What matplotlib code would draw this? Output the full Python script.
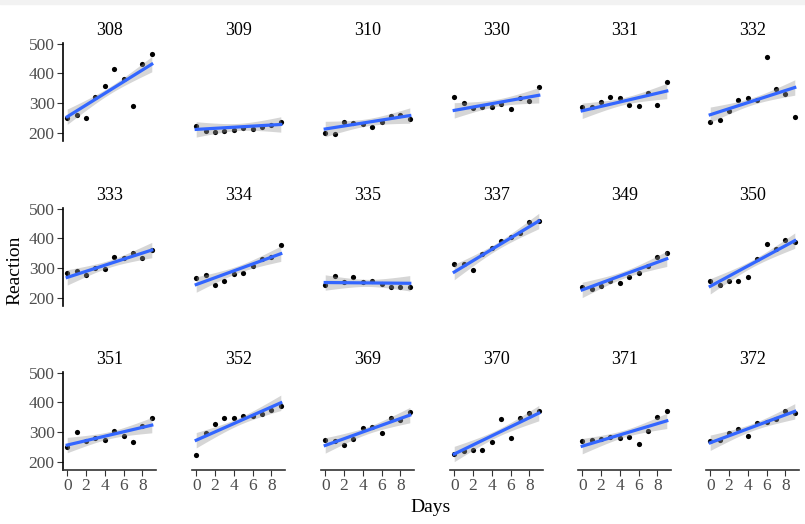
import numpy as np
import matplotlib.pyplot as plt
from matplotlib.patches import Rectangle

plt.rcParams['font.family'] = ['Liberation Serif', 'DejaVu Serif']

days = np.arange(10)
subjects = ['308', '309', '310', '330', '331', '332',
            '333', '334', '335', '337', '349', '350',
            '351', '352', '369', '370', '371', '372']

r308 = [249.56, 258.70, 250.80, 321.44, 356.85, 414.69, 382.20, 290.15, 430.59, 466.35]
r309 = [222.73, 205.27, 202.98, 204.71, 207.72, 215.96, 213.63, 217.73, 224.30, 237.31]
r310 = [199.05, 194.33, 234.32, 232.84, 229.31, 220.46, 235.42, 255.75, 261.01, 247.52]
r330 = [321.54, 300.40, 283.86, 285.13, 285.80, 297.59, 280.24, 318.26, 305.35, 354.05]
r331 = [287.61, 285.00, 301.82, 320.12, 316.28, 293.32, 290.08, 334.82, 293.75, 371.58]
r332 = [234.86, 242.81, 272.96, 309.77, 317.46, 310.00, 454.16, 346.83, 330.30, 253.86]
r333 = [283.84, 289.56, 276.77, 299.81, 297.17, 338.17, 332.03, 348.84, 333.36, 362.04]
r334 = [265.47, 276.20, 243.36, 254.67, 279.02, 284.19, 305.52, 331.52, 335.75, 377.30]
r335 = [241.61, 273.95, 254.49, 270.80, 251.45, 254.64, 245.45, 235.31, 235.75, 237.25]
r337 = [312.37, 313.81, 291.61, 346.12, 365.73, 391.84, 404.26, 416.69, 455.86, 458.92]
r349 = [236.10, 230.32, 238.93, 254.92, 250.71, 269.77, 281.56, 308.10, 336.28, 351.65]
r350 = [256.30, 243.45, 256.20, 255.53, 268.92, 329.72, 379.44, 362.92, 394.49, 389.05]
r351 = [250.53, 300.06, 269.89, 280.59, 271.83, 304.63, 287.75, 266.60, 321.54, 347.57]
r352 = [221.68, 298.19, 326.88, 346.86, 348.74, 352.83, 354.43, 360.43, 375.64, 388.54]
r369 = [271.92, 268.44, 257.24, 277.66, 314.82, 317.21, 298.14, 348.12, 340.28, 366.51]
r370 = [225.26, 234.52, 238.90, 240.47, 267.54, 344.19, 281.15, 347.59, 365.16, 372.23]
r371 = [269.88, 272.44, 277.90, 281.79, 279.17, 284.51, 259.27, 304.63, 350.78, 369.47]
r372 = [269.41, 273.47, 297.60, 310.63, 287.17, 329.61, 334.48, 343.22, 369.14, 364.12]

reactions = [r308, r309, r310, r330, r331, r332, r333, r334, r335,
             r337, r349, r350, r351, r352, r369, r370, r371, r372]

# per-subject fitted lines (random intercept + slope model)
intercepts = [253.66, 211.01, 212.44, 275.10, 273.67, 260.44, 268.25, 244.17, 251.07,
              286.30, 226.19, 238.34, 255.98, 272.27, 254.68, 225.79, 252.21, 263.72]
slopes = [19.67, 1.85, 5.02, 5.65, 7.40, 10.19, 10.24, 11.54, -0.29,
          19.10, 11.64, 17.08, 7.45, 14.00, 11.34, 15.29, 9.48, 11.75]

# confidence band half-width: at mid-range and growth away from it
band_mid = 12.0
band_slope = 5.1

W, H = 805, 524
fig = plt.figure(figsize=(W / 100, H / 100), dpi=100)
fig.patches.append(Rectangle((0, 1 - 4 / H), 1, 4 / H, transform=fig.transFigure,
                             color='#f2f2f2', zorder=0))

col_left = [63, 192, 321, 450, 578, 706]
row_top = [43, 208, 372]
pw, ph = 93, 98
grey = '#4d4d4d'

for i, (subj, r) in enumerate(zip(subjects, reactions)):
    row, col = divmod(i, 6)
    ax = fig.add_axes([col_left[col] / W, 1 - (row_top[row] + ph) / H, pw / W, ph / H])

    xs = np.linspace(0, 9, 80)
    fit = intercepts[i] + slopes[i] * xs
    hw = np.sqrt(band_mid ** 2 + (band_slope * (xs - 4.5)) ** 2)

    ax.scatter(days, r, s=14, color='black', zorder=2, linewidths=0)
    ax.fill_between(xs, fit - hw, fit + hw, color='#999999',
                    alpha=0.4, linewidth=0, zorder=3)
    ax.plot(xs, fit, color='#3366FF', lw=2.3, zorder=4)

    ax.set_xlim(-0.45, 9.45)
    ax.set_ylim(172, 502)
    ax.set_title(subj, fontsize=13, pad=6)
    for sp in ['top', 'right']:
        ax.spines[sp].set_visible(False)
    ax.tick_params(colors=grey, labelsize=12.5, length=4, width=0.8, pad=2)
    ax.tick_params(axis='both', color='#333333')
    ax.spines['left'].set_color('black')
    ax.spines['bottom'].set_color('#333333')
    ax.set_xticks([0, 2, 4, 6, 8])
    ax.set_yticks([200, 300, 400, 500])
    if col == 0:
        ax.spines['left'].set_linewidth(1.2)
    else:
        ax.spines['left'].set_visible(False)
        ax.tick_params(axis='y', left=False, labelleft=False)
    if row == 2:
        ax.spines['bottom'].set_linewidth(1.2)
    else:
        ax.spines['bottom'].set_visible(False)
        ax.tick_params(axis='x', bottom=False, labelbottom=False)

fig.text(431 / W, 1 - 507 / H, 'Days', ha='center', va='center', fontsize=14)
fig.text(15 / W, 1 - 270 / H, 'Reaction', ha='center', va='center', fontsize=14, rotation=90)

fig.savefig('out.png', dpi=100)
